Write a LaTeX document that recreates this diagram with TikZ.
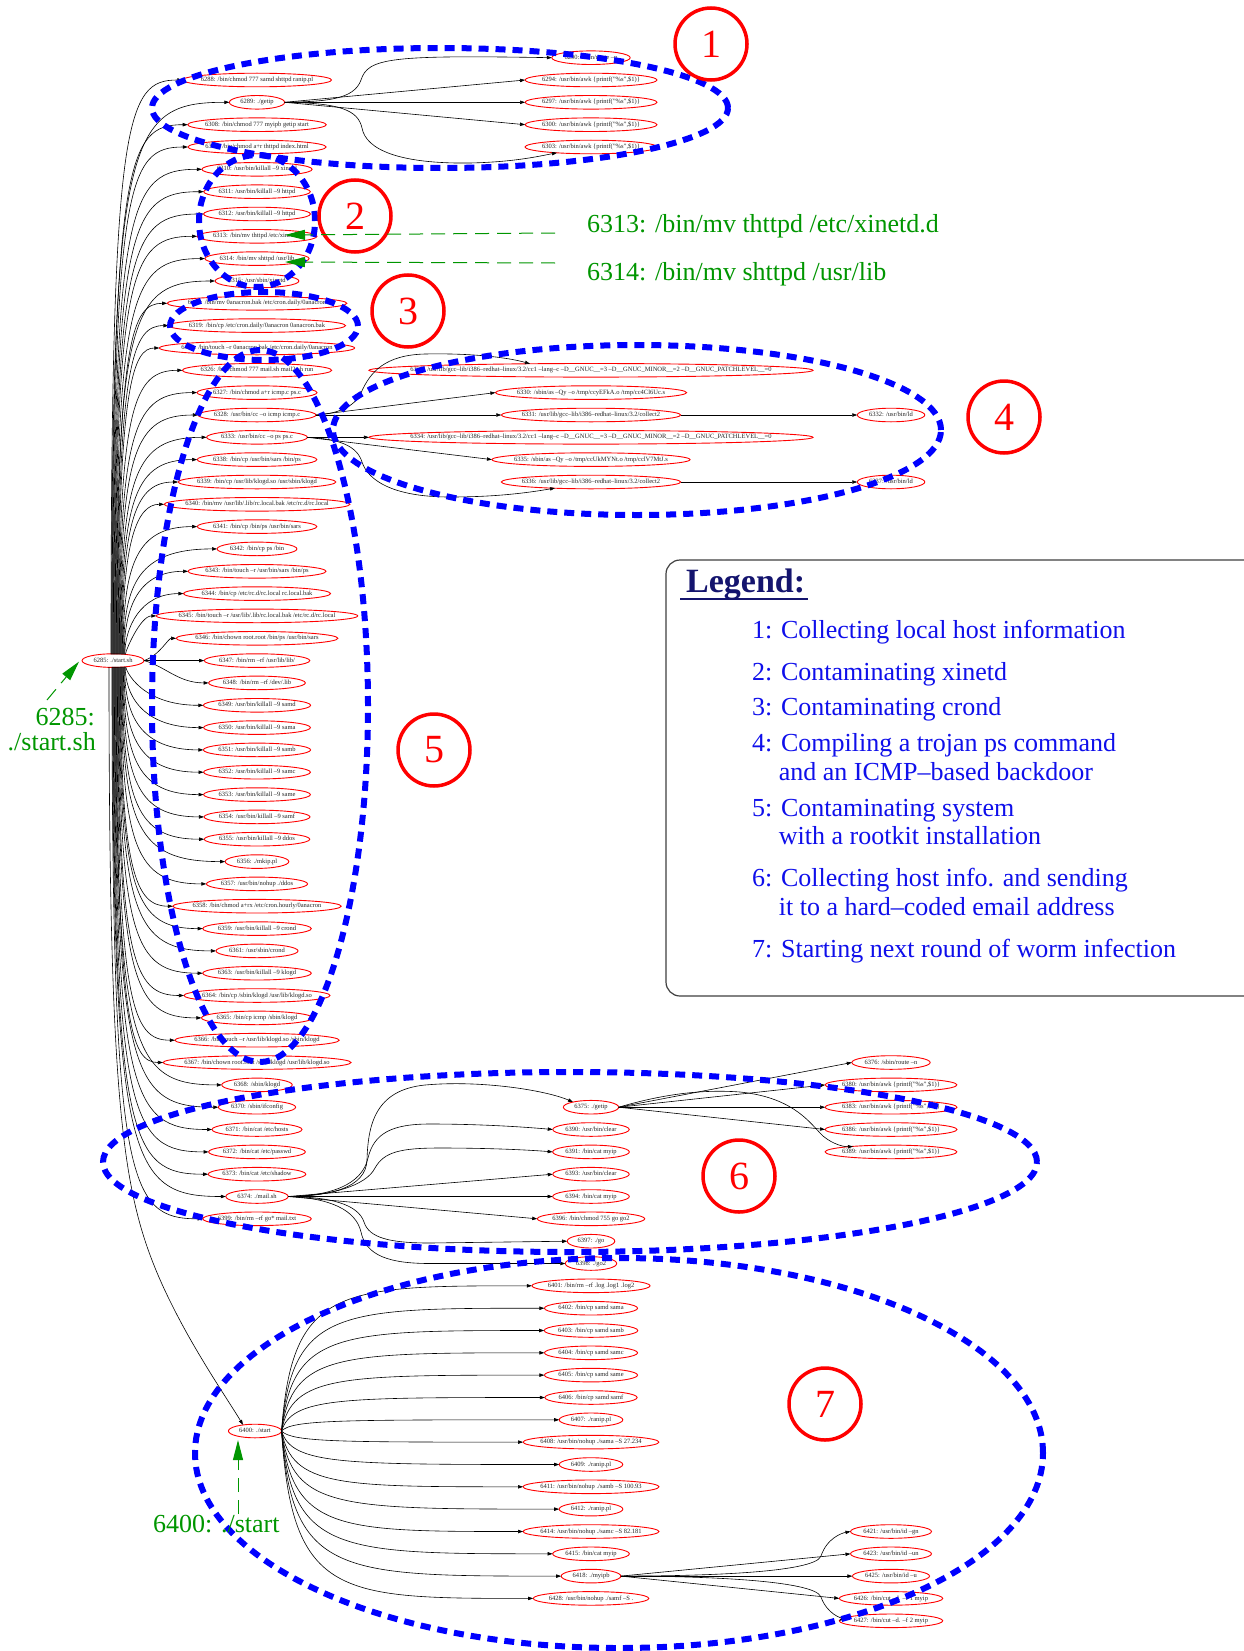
\documentclass[tikz,border=0pt]{standalone}
\usepackage{fontspec}
\setmainfont{Liberation Serif}
\usetikzlibrary{arrows.meta,calc}
\definecolor{gr}{RGB}{0,150,0}
\definecolor{navy}{RGB}{20,20,110}
\definecolor{lblue}{RGB}{15,15,235}
\tikzset{
 pnode/.style={rectangle, inner xsep=0pt, inner ysep=0pt, minimum height=13.6pt, text height=4.7pt, text depth=1.5pt, font=\fontsize{6.5}{7}\selectfont, text=black!85},
 pell/.style={draw=red, line width=0.9pt},
 edge/.style={draw=black, line width=0.6pt, -{Triangle[length=5pt,width=3.4pt]}},
 region/.style={draw=blue, line width=6pt, dash pattern=on 10pt off 7pt},
 rcirc/.style={draw=red, line width=3.5pt, circle, minimum size=72pt, inner sep=0pt, font=\fontsize{40}{40}\selectfont, text=red},
 ann/.style={text=gr, font=\fontsize{26}{24}\selectfont, inner sep=0pt},
 garrow/.style={draw=gr, line width=1pt, dash pattern=on 14pt off 8pt, -{Triangle[length=20pt,width=10pt]}},
 leg/.style={text=lblue, font=\fontsize{26}{29}\selectfont, inner sep=0pt, anchor=base west},
}
% #1 name, #2 x, #3 y, #4 text: text node #1t, outline node #1 (ellipse width = 1.186 w + 14.8)
\newcommand\pn[4]{\node[pnode] (#1t) at (#2,#3) {#4};
 \path let \p1=($(#1t.east)-(#1t.west)$) in node[pnode, minimum width={1.186*\x1+14.8pt}] (#1) at (#2,#3) {};
 \draw[pell] let \p1=($(#1.east)-(#1.west)$) in (#1.center) ellipse [x radius=0.5*\x1, y radius=6.8pt];}
\newcommand\rup[3]{\draw[edge] ([xshift={(#3-113)*1pt},yshift=6.2pt]n6285.center) .. controls (#3,#2+35) and (#3+15,#2) .. (#1.west);}
\newcommand\rdn[3]{\draw[edge] ([xshift={(#3-113)*1pt},yshift=-6.2pt]n6285.center) .. controls (#3,#2-35) and (#3+15,#2) .. (#1.west);}
\newcommand\sev[2]{\draw[edge] (n6400.east) .. controls (292,#2) and (340,#2) .. (#1.west);}
\newcommand\awk{/usr/bin/awk \{printf("\%s",\$1)\}}
\newcommand\gcc{/usr/lib/gcc--lib/i386--redhat--linux/3.2/cc1 --lang--c --D\_\_GNUC\_\_=3 --D\_\_GNUC\_MINOR\_\_=2 --D\_\_GNUC\_PATCHLEVEL\_\_=0}
\newcommand\col{/usr/lib/gcc--lib/i386--redhat--linux/3.2/collect2}
\begin{document}
\begin{tikzpicture}[x=1pt,y=-1pt]
\useasboundingbox (0,0) rectangle (1244,1651);
\fill[white] (0,0) rectangle (1244,1651);
\clip (0,0) rectangle (1244,1651);

% root
\pn{n6285}{113}{660.6}{6285: ./start.sh}
% rank 1
\pn{n6288}{257}{80.0}{6288: /bin/chmod 777 samd shttpd ranip.pl}
\pn{n6289}{257}{102.3}{6289: ./getip}
\pn{n6308}{257}{124.7}{6308: /bin/chmod 777 myipb getip start}
\pn{n6309}{257}{147.0}{6309: /bin/chmod a+r thttpd index.html}
\pn{n6310}{257}{169.3}{6310: /usr/bin/killall --9 xinetd}
\pn{n6311}{257}{191.7}{6311: /usr/bin/killall --9 httpd}
\pn{n6312}{257}{214.0}{6312: /usr/bin/killall --9 httpd}
\pn{n6313}{257}{236.3}{6313: /bin/mv thttpd /etc/xinetd.d}
\pn{n6314}{257}{258.6}{6314: /bin/mv shttpd /usr/lib}
\pn{n6315}{257}{281.0}{6315: /usr/sbin/xinetd}
\pn{n6318}{257}{303.3}{6318: /bin/mv 0anacron.bak /etc/cron.daily/0anacron}
\pn{n6319}{257}{325.6}{6319: /bin/cp /etc/cron.daily/0anacron 0anacron.bak}
\pn{n6320}{257}{348.0}{6320: /bin/touch --r 0anacron.bak /etc/cron.daily/0anacron}
\pn{n6326}{257}{370.3}{6326: /bin/chmod 777 mail.sh mail2.sh run}
\pn{n6327}{257}{392.6}{6327: /bin/chmod a+r icmp.c ps.c}
\pn{n6328}{257}{415.0}{6328: /usr/bin/cc --o icmp icmp.c}
\pn{n6333}{257}{437.3}{6333: /usr/bin/cc --o ps ps.c}
\pn{n6338}{257}{459.6}{6338: /bin/cp /usr/bin/sars /bin/ps}
\pn{n6339}{257}{482.0}{6339: /bin/cp /usr/lib/klogd.so /usr/sbin/klogd}
\pn{n6340}{257}{504.3}{6340: /bin/mv /usr/lib/.lib/rc.local.bak /etc/rc.d/rc.local}
\pn{n6341}{257}{526.6}{6341: /bin/cp /bin/ps /usr/bin/sars}
\pn{n6342}{257}{548.9}{6342: /bin/cp ps /bin}
\pn{n6343}{257}{571.3}{6343: /bin/touch --r /usr/bin/sars /bin/ps}
\pn{n6344}{257}{593.6}{6344: /bin/cp /etc/rc.d/rc.local rc.local.bak}
\pn{n6345}{257}{615.9}{6345: /bin/touch --r /usr/lib/.lib/rc.local.bak /etc/rc.d/rc.local}
\pn{n6346}{257}{638.3}{6346: /bin/chown root.root /bin/ps /usr/bin/sars}
\pn{n6347}{257}{660.6}{6347: /bin/rm --rf /usr/lib/lib/}
\pn{n6348}{257}{682.9}{6348: /bin/rm --rf /dev/.lib}
\pn{n6349}{257}{705.3}{6349: /usr/bin/killall --9 samd}
\pn{n6350}{257}{727.6}{6350: /usr/bin/killall --9 sama}
\pn{n6351}{257}{749.9}{6351: /usr/bin/killall --9 samb}
\pn{n6352}{257}{772.2}{6352: /usr/bin/killall --9 samc}
\pn{n6353}{257}{794.6}{6353: /usr/bin/killall --9 same}
\pn{n6354}{257}{816.9}{6354: /usr/bin/killall --9 samf}
\pn{n6355}{257}{839.2}{6355: /usr/bin/killall --9 ddos}
\pn{n6356}{257}{861.6}{6356: ./mkip.pl}
\pn{n6357}{257}{883.9}{6357: /usr/bin/nohup ./ddos}
\pn{n6358}{257}{906.2}{6358: /bin/chmod a+rx /etc/cron.hourly/0anacron}
\pn{n6359}{257}{928.6}{6359: /usr/bin/killall --9 crond}
\pn{n6361}{257}{950.9}{6361: /usr/sbin/crond}
\pn{n6363}{257}{973.2}{6363: /usr/bin/killall --9 klogd}
\pn{n6364}{257}{995.5}{6364: /bin/cp /sbin/klogd /usr/lib/klogd.so}
\pn{n6365}{257}{1017.9}{6365: /bin/cp icmp /sbin/klogd}
\pn{n6366}{257}{1040.2}{6366: /bin/touch --r /usr/lib/klogd.so /sbin/klogd}
\pn{n6367}{257}{1062.5}{6367: /bin/chown root.root /sbin/klogd /usr/lib/klogd.so}
\pn{n6368}{257}{1084.9}{6368: /sbin/klogd}
\pn{n6370}{257}{1107.2}{6370: /sbin/ifconfig}
\pn{n6371}{257}{1129.5}{6371: /bin/cat /etc/hosts}
\pn{n6372}{257}{1151.9}{6372: /bin/cat /etc/passwd}
\pn{n6373}{257}{1174.2}{6373: /bin/cat /etc/shadow}
\pn{n6374}{257}{1196.5}{6374: ./mail.sh}
\pn{n6399}{257}{1218.8}{6399: /bin/rm --rf go* mail.txt}
\pn{n6400}{255}{1431}{6400: ./start}
% region 1 rank 2
\pn{n6290}{591}{57.7}{6290: /sbin/route --n}
\pn{n6294}{591}{80.0}{6294: \awk}
\pn{n6297}{591}{102.3}{6297: \awk}
\pn{n6300}{591}{124.7}{6300: \awk}
\pn{n6303}{591}{147.0}{6303: \awk}
% region 4
\pn{n6329}{591}{370.3}{6329: \gcc}
\pn{n6330}{591}{392.6}{6330: /sbin/as --Qy --o /tmp/ccyEFkA.o /tmp/cc4Cl6Uc.s}
\pn{n6331}{591}{415.0}{6331: \col}
\pn{n6334}{591}{437.3}{6334: \gcc}
\pn{n6335}{591}{459.6}{6335: /sbin/as --Qy --o /tmp/ccUkMYNt.o /tmp/cclV7MtJ.s}
\pn{n6336}{591}{482.0}{6336: \col}
\pn{n6332}{891}{415.0}{6332: /usr/bin/ld}
\pn{n6337}{891}{482.0}{6337: /usr/bin/ld}
% region 6
\pn{n6375}{591}{1107.2}{6375: ./getip}
\pn{n6390}{591}{1129.5}{6390: /usr/bin/clear}
\pn{n6391}{591}{1151.9}{6391: /bin/cat myip}
\pn{n6393}{591}{1174.2}{6393: /usr/bin/clear}
\pn{n6394}{591}{1196.5}{6394: /bin/cat myip}
\pn{n6396}{591}{1218.8}{6396: /bin/chmod 755 go go2}
\pn{n6397}{591}{1241.2}{6397: ./go}
\pn{n6398}{591}{1263.5}{6398: ./go2}
\pn{n6376}{891}{1062.5}{6376: /sbin/route --n}
\pn{n6380}{891}{1084.9}{6380: \awk}
\pn{n6383}{891}{1107.2}{6383: \awk}
\pn{n6386}{891}{1129.5}{6386: \awk}
\pn{n6389}{891}{1151.9}{6389: \awk}
% region 7
\pn{n6401}{591}{1285.8}{6401: /bin/rm --rf .log .log1 .log2}
\pn{n6402}{591}{1308.2}{6402: /bin/cp samd sama}
\pn{n6403}{591}{1330.5}{6403: /bin/cp samd samb}
\pn{n6404}{591}{1352.8}{6404: /bin/cp samd samc}
\pn{n6405}{591}{1375.1}{6405: /bin/cp samd same}
\pn{n6406}{591}{1397.5}{6406: /bin/cp samd samf}
\pn{n6407}{591}{1419.8}{6407: ./ranip.pl}
\pn{n6408}{591}{1442.1}{6408: /usr/bin/nohup ./sama --S 27.234}
\pn{n6409}{591}{1464.5}{6409: ./ranip.pl}
\pn{n6411}{591}{1486.8}{6411: /usr/bin/nohup ./samb --S 100.93}
\pn{n6412}{591}{1509.1}{6412: ./ranip.pl}
\pn{n6414}{591}{1531.5}{6414: /usr/bin/nohup ./samc --S 82.181}
\pn{n6415}{591}{1553.8}{6415: /bin/cat myip}
\pn{n6418}{591}{1576.1}{6418: ./myipb}
\pn{n6428}{591}{1598.4}{6428: /usr/bin/nohup ./samf --S .}
\pn{n6421}{891}{1531.5}{6421: /usr/bin/id --gn}
\pn{n6423}{891}{1553.8}{6423: /usr/bin/id --un}
\pn{n6425}{891}{1576.1}{6425: /usr/bin/id --u}
\pn{n6426}{891}{1598.4}{6426: /bin/cut --d. --f 1 myip}
\pn{n6427}{891}{1620.8}{6427: /bin/cut --d. --f 2 myip}

% edges root -> rank 1
\rup{n6288}{80.0}{111.0}
\rup{n6289}{102.3}{111.6}
\rup{n6308}{124.7}{112.2}
\rup{n6309}{147.0}{112.8}
\rup{n6310}{169.3}{113.4}
\rup{n6311}{191.7}{114.0}
\rup{n6312}{214.0}{114.6}
\rup{n6313}{236.3}{115.2}
\rup{n6314}{258.6}{115.8}
\rup{n6315}{281.0}{116.4}
\rup{n6318}{303.3}{117.0}
\rup{n6319}{325.6}{117.6}
\rup{n6320}{348.0}{118.2}
\rup{n6326}{370.3}{118.8}
\rup{n6327}{392.6}{119.4}
\rup{n6328}{415.0}{120.0}
\rup{n6333}{437.3}{120.6}
\rup{n6338}{459.6}{121.2}
\rup{n6339}{482.0}{121.8}
\rup{n6340}{504.3}{122.4}
\rup{n6341}{526.6}{123.0}
\rup{n6342}{548.9}{123.6}
\rup{n6343}{571.3}{124.2}
\rup{n6344}{593.6}{124.8}
\rup{n6345}{615.9}{125.4}
\draw[edge] (n6285.east) .. controls (160,655) and (168,638.3) .. (n6346.west);
\draw[edge] (n6285.east) -- (n6347.west);
\draw[edge] (n6285.east) .. controls (165,666) and (178,682.9) .. (n6348.west);
\rdn{n6349}{705.3}{125.8}
\rdn{n6350}{727.6}{125.2}
\rdn{n6351}{749.9}{124.6}
\rdn{n6352}{772.2}{124.0}
\rdn{n6353}{794.6}{123.4}
\rdn{n6354}{816.9}{122.8}
\rdn{n6355}{839.2}{122.2}
\rdn{n6356}{861.6}{121.6}
\rdn{n6357}{883.9}{121.0}
\rdn{n6358}{906.2}{120.4}
\rdn{n6359}{928.6}{119.8}
\rdn{n6361}{950.9}{119.2}
\rdn{n6363}{973.2}{118.6}
\rdn{n6364}{995.5}{118.0}
\rdn{n6365}{1017.9}{117.4}
\rdn{n6366}{1040.2}{116.8}
\rdn{n6367}{1062.5}{116.2}
\rdn{n6368}{1084.9}{115.6}
\rdn{n6370}{1107.2}{115.0}
\rdn{n6371}{1129.5}{114.4}
\rdn{n6372}{1151.9}{113.8}
\rdn{n6373}{1174.2}{113.2}
\rdn{n6374}{1196.5}{112.6}
\rdn{n6399}{1218.8}{112.0}
\draw[edge] ([xshift=-4pt,yshift=-6.6pt]n6285.center) .. controls (109,1100) and (122,1190) .. (158,1275) .. controls (185,1338) and (225,1395) .. ($(n6400.center)+(-12,-6.2)$);

% region 1 edges
\draw[edge] (n6289.east) .. controls (325,101.5) and (354,100) .. (361,80) .. controls (368,58) and (390,55) .. (n6290.west);
\draw[edge] (n6289.east) -- (n6294.west);
\draw[edge] (n6289.east) -- (n6297.west);
\draw[edge] (n6289.east) -- (n6300.west);
\draw[edge] (n6289.east) .. controls (340,103) and (358,110) .. (362,128) .. controls (366,150) and (400,164) .. (470,163) .. controls (515,162) and (540,156) .. ($(n6303.center)+(-34,5.8)$);
% region 4 edges
\draw[edge] (n6328.east) .. controls (335,414) and (354,408) .. (361,393) .. controls (370,372) and (385,355) .. (425,354) .. controls (475,353) and (510,358) .. ($(n6329.center)+(-61,-6.5)$);
\draw[edge] (n6328.east) -- (n6330.west);
\draw[edge] (n6328.east) -- (n6331.west);
\draw[edge] (n6333.east) -- (n6334.west);
\draw[edge] (n6333.east) -- (n6335.west);
\draw[edge] (n6333.east) .. controls (340,439) and (357,446) .. (362,462) .. controls (368,480) and (392,497) .. (450,497) .. controls (500,497) and (532,492) .. ($(n6336.center)+(-36,6.1)$);
\draw[edge] (n6331.east) -- (n6332.west);
\draw[edge] (n6336.east) -- (n6337.west);
% region 6 edges
\draw[edge] (n6374.east) .. controls (330,1196) and (366,1188) .. (367,1160) .. controls (368,1125) and (375,1090) .. (425,1085) .. controls (480,1080) and (545,1090) .. ($(n6375.center)+(-18,-5.2)$);
\draw[edge] (n6374.east) .. controls (330,1196) and (362,1185) .. (368,1158) .. controls (374,1133) and (392,1124) .. (430,1124) .. controls (480,1124) and (525,1127) .. (n6390.west);
\draw[edge] (n6374.east) .. controls (330,1196) and (366,1186) .. (375,1168) .. controls (384,1152) and (400,1148) .. (440,1148) .. controls (490,1148) and (530,1150) .. (n6391.west);
\draw[edge] (n6374.east) -- (n6393.west);
\draw[edge] (n6374.east) -- (n6394.west);
\draw[edge] (n6374.east) -- (n6396.west);
\draw[edge] (n6374.east) .. controls (330,1197) and (358,1204) .. (364,1222) .. controls (369,1238) and (390,1243) .. (430,1243) -- (n6397.west);
\draw[edge] (n6374.east) .. controls (330,1198) and (356,1210) .. (361,1232) .. controls (366,1256) and (390,1263.5) .. (430,1263.5) -- (n6398.west);
\draw[edge] (n6375.east) -- (n6376.west);
\draw[edge] (n6375.east) -- (n6380.west);
\draw[edge] (n6375.east) -- (n6383.west);
\draw[edge] (n6375.east) -- (n6386.west);
\draw[edge] (n6375.east) .. controls (660,1095) and (700,1089) .. (740,1092) .. controls (790,1097) and (808,1120) .. (820,1133) .. controls (828,1142) and (842,1147) .. ($(n6389.center)+(-38,-5.4)$);
% region 7 edges
\sev{n6401}{1285.8}
\sev{n6402}{1308.2}
\sev{n6403}{1330.5}
\sev{n6404}{1352.8}
\sev{n6405}{1375.1}
\sev{n6406}{1397.5}
\sev{n6407}{1419.8}
\sev{n6408}{1442.1}
\sev{n6409}{1464.5}
\sev{n6411}{1486.8}
\sev{n6412}{1509.1}
\sev{n6414}{1531.5}
\sev{n6415}{1553.8}
\sev{n6418}{1576.1}
\sev{n6428}{1598.4}
\draw[edge] (n6418.east) .. controls (700,1576) and (815,1573) .. (821,1556) .. controls (827,1538) and (842,1533) .. (n6421.west);
\draw[edge] (n6418.east) -- (n6423.west);
\draw[edge] (n6418.east) -- (n6425.west);
\draw[edge] (n6418.east) -- (n6426.west);
\draw[edge] (n6418.east) .. controls (700,1576) and (815,1580) .. (821,1597) .. controls (827,1614) and (842,1619) .. (n6427.west);

% blue dashed regions
\draw[region] (440,108) ellipse [x radius=288pt, y radius=60pt];
\draw[region] (257,221) ellipse [x radius=58pt, y radius=66pt];
\draw[region] (264,326) ellipse [x radius=94pt, y radius=34pt];
\draw[region] (637,430) ellipse [x radius=304pt, y radius=85pt];
\draw[region] (260,706) ellipse [x radius=108pt, y radius=356pt];
\draw[region] (570,1162) ellipse [x radius=467pt, y radius=90pt];
\draw[region] (619,1453) ellipse [x radius=424pt, y radius=195pt];

% red circles
\node[rcirc] (c1) at (711,44) {1};
\node[rcirc] (c2) at (355,216) {2};
\node[rcirc] (c3) at (408,311) {3};
\node[rcirc] (c4) at (1004,417) {4};
\node[rcirc] (c5) at (434,750) {5};
\node[rcirc] (c6) at (739,1176) {6};
\node[rcirc] (c7) at (825,1404) {7};

% green annotations
\node[ann, anchor=west] (a1) at (587,226) {6313: /bin/mv thttpd /etc/xinetd.d};
\coordinate (a1s) at (555,233);
\draw[garrow] (a1s) -- ($(n6313.center)+(28,-1.3)$);
\node[ann, anchor=west] (a2) at (587,274) {6314: /bin/mv shttpd /usr/lib};
\coordinate (a2s) at (555,263);
\draw[garrow] (a2s) -- ($(n6314.center)+(28,3.4)$);
\node[ann, anchor=base east] (a3) at (95,725) {6285:};
\node[ann, anchor=base east] (a3b) at (96,750) {./start.sh};
\coordinate (a3s) at (47,700);
\draw[garrow] (a3s) -- ($(n6285.west)+(-3,1)$);
\node[ann, anchor=base west] (a4) at (153,1532) {6400: ./start};
\coordinate (a4s) at (238,1514);
\draw[garrow] (a4s) -- ($(n6400.center)+(-17,9)$);

% legend
\draw[draw=black!75, line width=1.2pt, rounded corners=14pt] (666,560) rectangle (1270,996);
\node[font=\bfseries\fontsize{34}{34}\selectfont, text=navy, anchor=base west, inner sep=0pt] (lt) at (686,592) {Legend:};
\draw[navy, line width=1.6pt] ($(lt.base west)+(-6,7)$) -- ($(lt.base east)+(3,7)$);
\node[leg] (l1) at (752,638) {1: Collecting local host information};
\node[leg] (l2) at (752,680) {2: Contaminating xinetd};
\node[leg] (l3) at (752,715) {3: Contaminating crond};
\node[leg] (l4) at (752,751) {4: Compiling a trojan ps command};
\node[leg] (l4b) at (778.7,780) {and an ICMP--based backdoor};
\node[leg] (l5) at (752,816) {5: Contaminating system};
\node[leg] (l5b) at (778.7,844) {with a rootkit installation};
\node[leg] (l6) at (752,886) {6: Collecting host info. and sending};
\node[leg] (l6b) at (778.7,915) {it to a hard--coded email address};
\node[leg] (l7) at (752,957) {7: Starting next round of worm infection};
\end{tikzpicture}
\end{document}
